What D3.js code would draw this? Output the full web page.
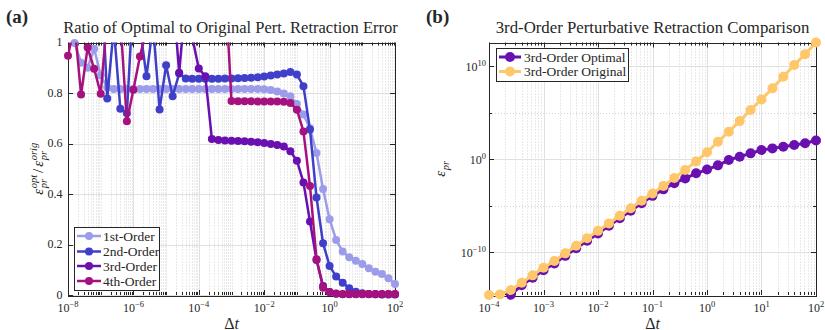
<!DOCTYPE html>
<html><head><meta charset="utf-8">
<script src="https://cdn.jsdelivr.net/npm/d3@7/dist/d3.min.js"></script>
<style>
body{margin:0;background:#fff}
svg{display:block}
text{font-family:"Liberation Serif","Times New Roman",serif;fill:#262626}
</style></head><body>
<svg id="chart" width="825" height="330"></svg>
<script>
// ---------------- DATA ----------------
// Panel (a): time steps as log10 exponents
const dtExpA = [-8,-7.8,-7.6,-7.4,-7.2,-7,-6.8,-6.6,-6.4,-6.2,-6,-5.8,-5.6,-5.4,-5.2,-5,-4.8,-4.6,-4.4,-4.2,
  -4,-3.8,-3.6,-3.4,-3.2,-3,-2.8,-2.6,-2.4,-2.2,-2,-1.8,-1.6,-1.4,-1.2,-1,-0.8,-0.6,-0.4,-0.2,
  0,0.2,0.4,0.6,0.8,1,1.2,1.4,1.6,1.8,2];
const ratio1st = [1.10,0.998,0.92,0.90,0.975,0.87,0.822,0.816,0.816,0.816,
  0.816,0.816,0.816,0.816,0.816,0.816,0.816,0.816,0.816,0.816,
  0.816,0.816,0.816,0.816,0.816,0.816,0.816,0.816,0.816,0.816,
  0.815,0.812,0.806,0.798,0.787,0.756,0.715,0.660,0.562,0.420,
  0.300,0.218,0.172,0.150,0.136,0.123,0.106,0.092,0.083,0.066,0.044];
const ratio2nd = [1.20,1.35,1.15,1.40,1.25,1.30,0.778,1.06,0.738,0.720,
  1.19,1.06,0.866,1.07,0.735,0.910,0.787,0.877,0.857,0.856,
  0.856,0.856,0.856,0.856,0.857,0.857,0.858,0.859,0.860,0.862,
  0.865,0.869,0.873,0.877,0.883,0.873,0.827,0.655,0.386,0.205,
  0.115,0.073,0.049,0.027,0.013,0.007,0.004,0.003,0.002,0.002,0.002];
const ratio3rd = [1.40,1.20,1.50,1.30,1.60,1.25,1.45,1.30,1.20,1.50,
  1.35,1.25,1.40,1.30,1.50,1.30,1.21,0.880,1.18,1.02,
  0.897,0.866,0.618,0.614,0.612,0.611,0.610,0.609,0.607,0.605,
  0.602,0.598,0.594,0.588,0.569,0.532,0.446,0.291,0.139,0.036,
  0.012,0.005,0.003,0.003,0.003,0.003,0.003,0.003,0.003,0.003,0.003];
const ratio4th = [0.948,1.07,0.794,0.980,0.896,0.797,1.10,1.30,1.09,0.688,
  0.813,0.945,1.05,1.30,1.20,1.40,1.25,1.35,1.20,1.30,
  1.45,1.30,1.20,1.35,1.25,0.768,0.767,0.767,0.767,0.766,
  0.766,0.766,0.766,0.765,0.760,0.734,0.648,0.432,0.142,0.029,
  0.012,0.006,0.004,0.004,0.004,0.004,0.004,0.004,0.004,0.004,0.004];
const seriesNamesA = ["1st-Order","2nd-Order","3rd-Order","4th-Order"];
const yTicksA = [0,0.2,0.4,0.6,0.8,1];
const yTickLabelsA = ["0","0.2","0.4","0.6","0.8","1"];
const xTickExpA = [-8,-6,-4,-2,0,2];

// Panel (b)
const dtExpB = [-4,-3.8,-3.6,-3.4,-3.2,-3,-2.8,-2.6,-2.4,-2.2,-2,-1.8,-1.6,-1.4,-1.2,-1,
  -0.8,-0.6,-0.4,-0.2,0,0.2,0.4,0.6,0.8,1,1.2,1.4,1.6,1.8,2];
const errOptimal = [5.0e-16,1.0e-15,2.5e-15,2.7e-14,1.7e-13,1.1e-12,5.8e-12,3.9e-11,2.6e-10,1.6e-9,
  1.0e-8,6.6e-8,4.3e-7,2.7e-6,1.8e-5,1.1e-4,5.5e-4,2.5e-3,8.3e-3,2.9e-2,
  7.4e-2,0.21,0.78,1.8,4.1,9.3,14,21,32,49,98];
const errOriginal = [2.4e-15,2.8e-15,8.1e-15,5.0e-14,3.1e-13,2.0e-12,1.1e-11,7.2e-11,4.8e-10,3.0e-9,
  1.9e-8,1.2e-7,7.9e-7,5.0e-6,3.3e-5,2.0e-4,1.3e-3,9.1e-3,6.8e-2,0.56,
  5.4,72,870,1.2e4,1.9e5,2.6e6,4.0e7,7.1e8,1.3e10,1.9e11,3.4e12];
const seriesNamesB = ["3rd-Order Optimal","3rd-Order Original"];
const xTickExpB = [-4,-3,-2,-1,0,1,2];
const yTickExpB = [-10,0,10];
const yMinorExpB = [-5,5];

// ---------------- STYLE ----------------
const colorsA = ["#9c9ceb","#3f3fc9","#6a0fb0","#a5127f"];
const colorsB = ["#6a0fb0","#fec76a"];
const INK = "#262626", GRID = "#e0e0e0", MINOR = "#c6c6c6";

const svg = d3.select("#chart");

function addPow(sel, exp) {
  sel.append("tspan").text("10");
  sel.append("tspan").attr("font-size", 8.5).attr("dy", -4.5)
     .text(exp < 0 ? "\u2212" + (-exp) : String(exp));
}
const px = v => Math.round(v) + 0.5;

function frame(g, box, x, y, opt) {
  g.selectAll(null).data(opt.xMinor).join("line")
    .attr("x1", d => px(x(d))).attr("x2", d => px(x(d)))
    .attr("y1", box.t).attr("y2", box.b)
    .attr("stroke", MINOR).attr("stroke-width", 0.8).attr("stroke-dasharray", "1,2");
  if (opt.yMinor) g.selectAll(null).data(opt.yMinor).join("line")
    .attr("y1", d => px(y(d))).attr("y2", d => px(y(d)))
    .attr("x1", box.l).attr("x2", box.r)
    .attr("stroke", MINOR).attr("stroke-width", 0.8).attr("stroke-dasharray", "1,2");
  g.selectAll(null).data(opt.xMajor).join("line")
    .attr("x1", d => px(x(d))).attr("x2", d => px(x(d)))
    .attr("y1", box.t).attr("y2", box.b).attr("stroke", GRID);
  g.selectAll(null).data(opt.yMajor).join("line")
    .attr("y1", d => px(y(d))).attr("y2", d => px(y(d)))
    .attr("x1", box.l).attr("x2", box.r).attr("stroke", GRID);
  const tk = (vals, len, axis) => {
    vals.forEach(v => {
      if (axis === "x") {
        const xx = px(x(v));
        g.append("line").attr("x1", xx).attr("x2", xx).attr("y1", box.b).attr("y2", box.b - len).attr("stroke", INK);
        g.append("line").attr("x1", xx).attr("x2", xx).attr("y1", box.t).attr("y2", box.t + len).attr("stroke", INK);
      } else {
        const yy = px(y(v));
        g.append("line").attr("y1", yy).attr("y2", yy).attr("x1", box.l).attr("x2", box.l + len).attr("stroke", INK);
        g.append("line").attr("y1", yy).attr("y2", yy).attr("x1", box.r).attr("x2", box.r - len).attr("stroke", INK);
      }
    });
  };
  tk(opt.xMajor, 5, "x"); tk(opt.xMinor, 3, "x");
  tk(opt.yMajor, 5, "y"); if (opt.yMinor) tk(opt.yMinor, 3, "y");
  g.append("rect").attr("x", px(box.l)).attr("y", px(box.t))
    .attr("width", Math.round(box.r - box.l)).attr("height", Math.round(box.b - box.t))
    .attr("fill", "none").attr("stroke", INK);
}

function series(g, clipId, x, y, xs, ys, color, r, lw, inDomain) {
  const pts = xs.map((e, i) => ({x: Math.pow(10, e), y: ys[i]}));
  g.append("path").datum(pts)
    .attr("clip-path", `url(#${clipId})`)
    .attr("d", d3.line().x(d => x(d.x)).y(d => y(d.y)))
    .attr("fill", "none").attr("stroke", color).attr("stroke-width", lw)
    .attr("stroke-linejoin", "round");
  g.selectAll(null).data(pts.filter(inDomain)).join("circle")
    .attr("cx", d => x(d.x)).attr("cy", d => y(d.y)).attr("r", r)
    .attr("fill", color);
}

function legend(g, bx, by, bw, bh, names, colors, r, lw, x0, x1, tx, rowY, fs) {
  g.append("rect").attr("x", bx + 0.5).attr("y", by + 0.5).attr("width", bw).attr("height", bh)
    .attr("fill", "#fff").attr("stroke", INK);
  names.forEach((n, i) => {
    const yy = rowY[i];
    g.append("line").attr("x1", x0).attr("x2", x1).attr("y1", yy).attr("y2", yy)
      .attr("stroke", colors[i]).attr("stroke-width", lw);
    g.append("circle").attr("cx", (x0 + x1) / 2).attr("cy", yy).attr("r", r).attr("fill", colors[i]);
    g.append("text").attr("x", tx).attr("y", yy + 4.5).attr("font-size", fs).text(n);
  });
}

function epsTerm(g, x, sub, sup, fs) {
  const e = g.append("text").attr("x", x).attr("y", 0).attr("font-size", fs).attr("font-style", "italic").text("ε");
  const w = e.node().getComputedTextLength();
  const ss = fs * 0.7;
  let wm = 0;
  if (sup) {
    const s = g.append("text").attr("x", x + w + 0.5).attr("y", -fs * 0.42).attr("font-size", ss).attr("font-style", "italic").text(sup);
    wm = Math.max(wm, s.node().getComputedTextLength());
  }
  if (sub) {
    const s = g.append("text").attr("x", x + w + 0.5).attr("y", fs * 0.27).attr("font-size", ss).attr("font-style", "italic").text(sub);
    wm = Math.max(wm, s.node().getComputedTextLength());
  }
  return x + w + 0.5 + wm;
}

function deltaT(g, cx, by) {
  const t = g.append("text").attr("x", cx).attr("y", by).attr("font-size", 16).attr("text-anchor", "middle");
  t.append("tspan").text("Δ");
  t.append("tspan").attr("font-style", "italic").text("t");
}

svg.append("defs");

// ================= PANEL A =================
const A = {l: 68, r: 395, t: 42.5, b: 295};
const xA = d3.scaleLog().domain([1e-8, 1e2]).range([A.l, A.r]);
const yA = d3.scaleLinear().domain([0, 1]).range([A.b, A.t]);
const gA = svg.append("g");
svg.select("defs").append("clipPath").attr("id", "clipA").append("rect")
  .attr("x", A.l).attr("y", A.t).attr("width", A.r - A.l).attr("height", A.b - A.t);

const xMajorA = xTickExpA.map(e => Math.pow(10, e));
const xMinorA = [];
for (let n = -8; n < 2; n++) for (let m = 1; m < 10; m++) {
  if (m === 1 && xTickExpA.includes(n)) continue;
  xMinorA.push(m * Math.pow(10, n));
}
frame(gA, A, xA, yA, {xMajor: xMajorA, xMinor: xMinorA, yMajor: yTicksA});

[ratio1st, ratio2nd, ratio3rd, ratio4th].forEach((s, i) =>
  series(gA, "clipA", xA, yA, dtExpA, s, colorsA[i], 4, 2.5, d => d.y <= 1.0));

yTicksA.forEach((v, i) => gA.append("text").attr("x", 62.5).attr("y", yA(v) + 3.5)
  .attr("text-anchor", "end").attr("font-size", 12).text(yTickLabelsA[i]));
xTickExpA.forEach(e => addPow(gA.append("text").attr("x", xA(Math.pow(10, e))).attr("y", 311.5)
  .attr("text-anchor", "middle").attr("font-size", 12), e));

gA.append("text").attr("x", (A.l + A.r) / 2 - 1).attr("y", 33).attr("text-anchor", "middle")
  .attr("font-size", 16.5).text("Ratio of Optimal to Original Pert. Retraction Error");
deltaT(gA, (A.l + A.r) / 2, 328.5);
gA.append("text").attr("x", 6).attr("y", 23).attr("font-size", 19).attr("font-weight", "bold").text("(a)");

{
  const g = gA.append("g");
  let x = epsTerm(g, 0, "pr", "opt", 15);
  const sl = g.append("text").attr("x", x + 2).attr("y", 0).attr("font-size", 15).text("/");
  x = x + 2 + sl.node().getComputedTextLength() + 2;
  x = epsTerm(g, x, "pr", "orig", 15);
  g.attr("transform", `translate(43,${(A.t + A.b) / 2}) rotate(-90) translate(${-x / 2},0)`);
}

legend(gA, 74, 227, 85, 63, seriesNamesA, colorsA, 4, 2.5, 77, 101, 103, [236, 251.5, 266, 281], 13.5);

// ================= PANEL B =================
const B = {l: 489, r: 816, t: 42.5, b: 295};
const yDomainB = [2.4e-15, 3.4e12];
const xB = d3.scaleLog().domain([1e-4, 1e2]).range([B.l, B.r]);
const yB = d3.scaleLog().domain(yDomainB).range([B.b, B.t]);
const gB = svg.append("g");
svg.select("defs").append("clipPath").attr("id", "clipB").append("rect")
  .attr("x", B.l).attr("y", B.t).attr("width", B.r - B.l).attr("height", B.b - B.t);

const xMajorB = xTickExpB.map(e => Math.pow(10, e));
const xMinorB = [];
for (let n = -4; n < 2; n++) for (let m = 2; m < 10; m++) xMinorB.push(m * Math.pow(10, n));
frame(gB, B, xB, yB, {xMajor: xMajorB, xMinor: xMinorB,
  yMajor: yTickExpB.map(e => Math.pow(10, e)), yMinor: yMinorExpB.map(e => Math.pow(10, e))});

[errOptimal, errOriginal].forEach((s, i) =>
  series(gB, "clipB", xB, yB, dtExpB, s, colorsB[i], 5, 3, d => d.y >= yDomainB[0] * 0.999));

yTickExpB.forEach(e => addPow(gB.append("text").attr("x", 486).attr("y", yB(Math.pow(10, e)) + 4.5)
  .attr("text-anchor", "end").attr("font-size", 12), e));
xTickExpB.forEach(e => addPow(gB.append("text").attr("x", xB(Math.pow(10, e))).attr("y", 311.5)
  .attr("text-anchor", "middle").attr("font-size", 12), e));

gB.append("text").attr("x", (B.l + B.r) / 2).attr("y", 33).attr("text-anchor", "middle")
  .attr("font-size", 16.8).text("3rd-Order Perturbative Retraction Comparison");
deltaT(gB, (B.l + B.r) / 2, 328.5);
gB.append("text").attr("x", 426).attr("y", 23).attr("font-size", 19).attr("font-weight", "bold").text("(b)");
{
  const g = gB.append("g");
  const x = epsTerm(g, 0, "pr", null, 15);
  g.attr("transform", `translate(445,${(B.t + B.b) / 2}) rotate(-90) translate(${-x / 2},0)`);
}
legend(gB, 496, 48, 132, 33, seriesNamesB, colorsB, 5, 3, 499, 521, 524, [57, 71.5], 13.5);
</script>
</body></html>
